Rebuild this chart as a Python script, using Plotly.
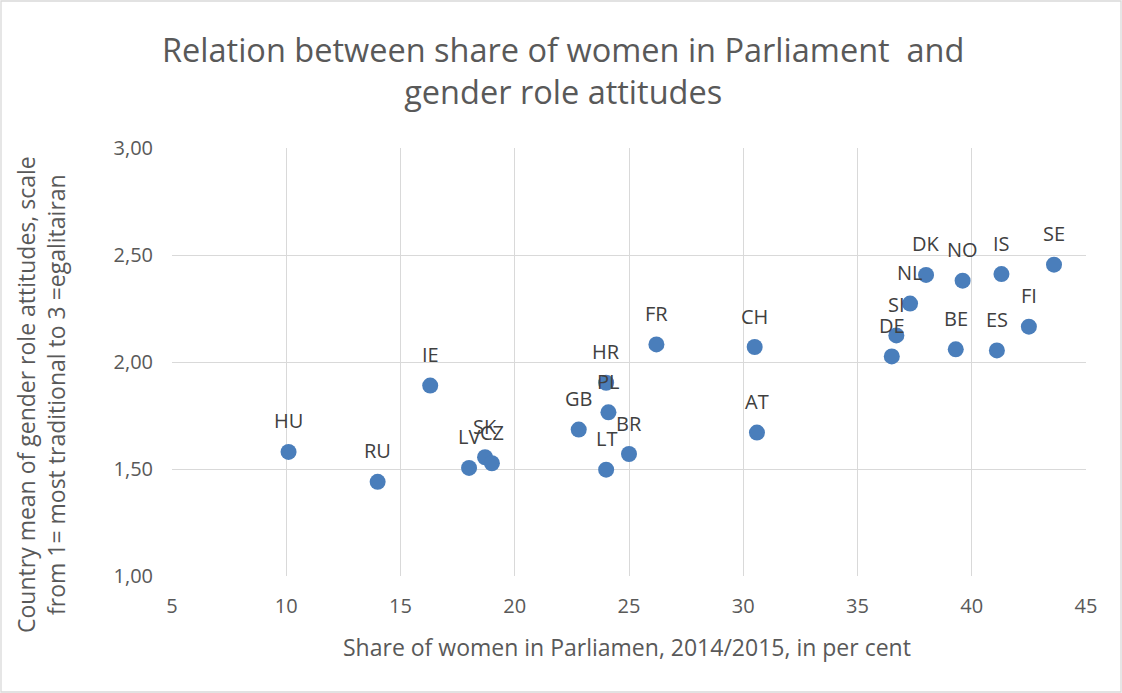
import plotly.graph_objects as go

countries = ["HU", "RU", "IE", "LV", "SK", "CZ", "GB", "PL", "LT", "BR", "HR", "FR",
             "CH", "AT", "DE", "SI", "NL", "DK", "NO", "IS", "SE", "BE", "ES", "FI"]
women_share = [10.1, 14.0, 16.3, 18.0, 18.7, 19.0, 22.8, 24.1, 24.0, 25.0, 24.0, 26.2,
               30.5, 30.6, 36.5, 36.7, 37.3, 38.0, 39.6, 41.3, 43.6, 39.3, 41.1, 42.5]
attitudes = [1.58, 1.44, 1.89, 1.505, 1.555, 1.527, 1.684, 1.765, 1.497, 1.57, 1.903, 2.082,
             2.07, 1.67, 2.026, 2.124, 2.273, 2.407, 2.38, 2.411, 2.455, 2.059, 2.054, 2.165]

x_ticks = [5, 10, 15, 20, 25, 30, 35, 40, 45]
y_ticks = [1.0, 1.5, 2.0, 2.5, 3.0]

FONT = "Open Sans"
GRAY = "#595959"

W, H = 1122, 693
L, R, T, B = 172, 36, 148, 117
pw, ph = W - L - R, H - T - B


def px_x(p):
    return (p - L) / pw


def px_y(p):
    return (H - B - p) / ph


fig = go.Figure()
fig.add_trace(go.Scatter(
    x=women_share, y=attitudes, mode="markers",
    marker=dict(size=16, color="#4a7ebb"),
    showlegend=False, cliponaxis=False,
))

annotations = [
    dict(x=xv, y=yv, xref="x", yref="y", text=c, showarrow=False,
         xanchor="center", yanchor="middle", yshift=31,
         font=dict(family=FONT, size=20, color="#404040"))
    for c, xv, yv in zip(countries, women_share, attitudes)
]
annotations += [
    dict(x=px_x(563), y=px_y(70), xref="paper", yref="paper", showarrow=False,
         text="Relation between share of women in Parliament  and<br>gender role attitudes",
         xanchor="center", yanchor="middle",
         font=dict(family=FONT, size=32.5, color=GRAY)),
    dict(x=px_x(627), y=px_y(647), xref="paper", yref="paper", showarrow=False,
         text="Share of women in Parliamen, 2014/2015, in per cent",
         xanchor="center", yanchor="middle",
         font=dict(family=FONT, size=23, color=GRAY)),
    dict(x=px_x(41), y=px_y(395), xref="paper", yref="paper", showarrow=False,
         text="Country mean of gender role attitudes, scale<br>from 1= most traditional to 3 =egalitairan",
         xanchor="center", yanchor="middle", textangle=-90,
         font=dict(family=FONT, size=23, color=GRAY)),
]

fig.update_layout(
    width=W, height=H,
    margin=dict(l=L, r=R, t=T, b=B),
    paper_bgcolor="white", plot_bgcolor="white",
    separators=",.",
    font=dict(family=FONT, color=GRAY),
    xaxis=dict(
        range=[5, 45], tickvals=x_ticks, showgrid=True, gridcolor="#d9d9d9", gridwidth=1.3,
        zeroline=False, showline=False, ticks="", ticklabelstandoff=16,
        tickfont=dict(size=20, color=GRAY),
    ),
    yaxis=dict(
        range=[1.0, 3.0], tickvals=y_ticks, tickformat=".2f", showgrid=True,
        gridcolor="#d9d9d9", gridwidth=1.3, zeroline=False, showline=False, ticks="",
        ticklabelstandoff=18,
        tickfont=dict(size=20, color=GRAY),
    ),
    annotations=annotations,
    shapes=[
        dict(type="rect", xref="paper", yref="paper",
             x0=px_x(1), x1=px_x(W - 1), y0=px_y(H - 1), y1=px_y(1),
             line=dict(color="#d9d9d9", width=1.3), fillcolor="rgba(0,0,0,0)", layer="below"),
    ],
)

fig.write_html("out.html")
